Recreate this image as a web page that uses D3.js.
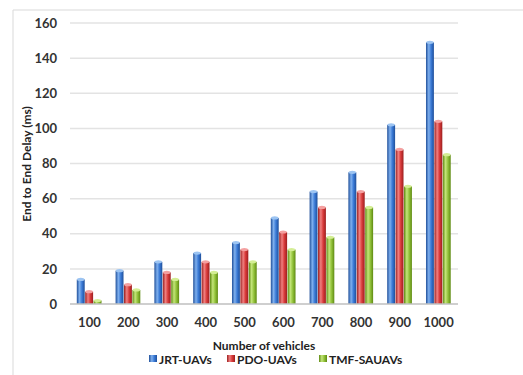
<!DOCTYPE html>
<html><head><meta charset="utf-8">
<script src="https://cdn.jsdelivr.net/npm/d3@7"></script>
<style>body{margin:0;background:#fff;}svg{display:block;font-family:Lato,"Open Sans",sans-serif;}</style>
</head><body>
<svg id="c" width="523" height="375"></svg>
<script>
const categories = ["100","200","300","400","500","600","700","800","900","1000"];
const seriesNames = ["JRT-UAVs","PDO-UAVs","TMF-SAUAVs"];
const jrt = [14,19,24,29,35,49,64,75,102,149];
const pdo = [7,11,18,24,31,41,55,64,88,104];
const tmf = [2,8,14,18,24,31,38,55,67,85];
const yTicks = [0,20,40,60,80,100,120,140,160];
const seriesValues = [jrt,pdo,tmf];

const svg = d3.select("#c");
const W=523,H=375;
const m={left:70,right:65,top:23,bottom:71};
const iw=W-m.left-m.right, ih=H-m.top-m.bottom;

// frame
svg.append("path").attr("d",`M13,375 L13,10 L523,10`).attr("fill","none").attr("stroke","#d9d9d9").attr("stroke-width",1);

const colors=[
  {dark:"#1f4f9a",mid:"#3a7ad6",light:"#7fb0ee",cap:"#9cc4f2"},
  {dark:"#9c1f1f",mid:"#d83a3a",light:"#f08080",cap:"#f4a0a0"},
  {dark:"#5e8a12",mid:"#92c23a",light:"#c4e57a",cap:"#d4ee95"}
];
const defs=svg.append("defs");
colors.forEach((c,i)=>{
  const g=defs.append("linearGradient").attr("id","g"+i).attr("x1","0").attr("x2","1").attr("y1","0").attr("y2","0");
  g.append("stop").attr("offset","0%").attr("stop-color",c.dark);
  g.append("stop").attr("offset","35%").attr("stop-color",c.light);
  g.append("stop").attr("offset","65%").attr("stop-color",c.mid);
  g.append("stop").attr("offset","100%").attr("stop-color",c.dark);
});

const x=d3.scaleBand().domain(categories).range([m.left,m.left+iw]).paddingInner(0.35).paddingOuter(0.175);
const xs=d3.scaleBand().domain(seriesNames).range([0,x.bandwidth()]);
const y=d3.scaleLinear().domain([0,160]).range([m.top+ih,m.top]);

// grid
svg.append("g").selectAll("line").data(yTicks.filter(t=>t>0)).join("line")
  .attr("x1",m.left).attr("x2",m.left+iw).attr("y1",d=>y(d)).attr("y2",d=>y(d))
  .attr("stroke","#e3e3e3").attr("stroke-width",1.5);

// y axis
const ya=svg.append("g").attr("transform",`translate(57,0)`)
  .call(d3.axisLeft(y).tickValues(yTicks).tickSize(0).tickPadding(0));
ya.select(".domain").remove();
ya.selectAll("text").attr("font-size",13).attr("font-weight","bold").attr("fill","#333").attr("font-family","Lato");

// bars
const rows=categories.map((c,i)=>({cat:c,vals:seriesNames.map((s,j)=>({s,j,v:seriesValues[j][i]}))}));
const gg=svg.append("g").selectAll("g").data(rows).join("g").attr("transform",d=>`translate(${x(d.cat)},0)`);
const bw=xs.bandwidth();
gg.selectAll("rect").data(d=>d.vals).join("rect")
  .attr("x",d=>xs(d.s)).attr("width",bw-0.5)
  .attr("y",d=>y(d.v)).attr("height",d=>y(0)-y(d.v))
  .attr("fill",d=>`url(#g${d.j})`);
gg.selectAll("ellipse").data(d=>d.vals).join("ellipse")
  .attr("cx",d=>xs(d.s)+bw/2-0.25).attr("cy",d=>y(d.v)).attr("rx",bw/2-0.5).attr("ry",1.6)
  .attr("fill",d=>colors[d.j].cap);

// baseline
svg.append("line").attr("x1",m.left).attr("x2",m.left+iw).attr("y1",y(0)).attr("y2",y(0)).attr("stroke","#bfbfbf").attr("stroke-width",1.5);

// x axis
const xa=svg.append("g").attr("transform",`translate(0,${y(0)+14})`).call(d3.axisBottom(x).tickSize(0).tickPadding(0));
xa.select(".domain").remove();
xa.selectAll("text").attr("font-size",13).attr("font-weight","bold").attr("fill","#333").attr("font-family","Lato");

// titles
svg.append("text").attr("x",264).attr("y",349.5).attr("text-anchor","middle").attr("font-size",12).attr("font-weight","bold").attr("fill","#222").text("Number of vehicles");
svg.append("text").attr("transform","translate(31,164) rotate(-90)").attr("text-anchor","middle").attr("font-size",12).attr("font-weight","bold").attr("fill","#222").text("End to End Delay (ms)");

// legend
const legX=[149,227,319];
const lg=svg.append("g").selectAll("g").data(seriesNames).join("g").attr("transform",(d,i)=>`translate(${legX[i]},355)`);
lg.append("rect").attr("width",8).attr("height",7).attr("y",0).attr("fill",(d,i)=>`url(#g${i})`);
lg.append("text").attr("x",10).attr("y",8.5).attr("font-size",12).attr("font-weight","bold").attr("fill","#222").text(d=>d);
</script>
</body></html>
